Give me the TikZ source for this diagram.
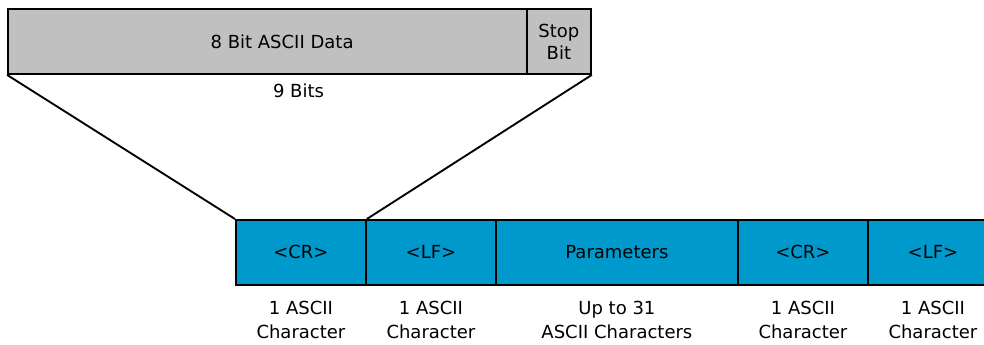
\documentclass[tikz,border=0pt]{standalone}
\usepackage{fontspec}
\setmainfont{DejaVu Sans}
\definecolor{boxgray}{RGB}{192,192,192}
\definecolor{boxblue}{RGB}{0,153,204}
\begin{document}
\begin{tikzpicture}[x=0.75pt,y=-0.75pt,
  txt/.style={font=\fontsize{13.5}{16.5}\selectfont},
  field/.style={draw=black,line width=1.4pt,inner sep=0pt,anchor=north west,
    minimum height=48.75pt,align=center,txt},
  topfield/.style={field,fill=boxgray},
  msgfield/.style={field,fill=boxblue},
  lbl/.style={inner sep=0pt,anchor=north,align=center,font=\fontsize{13.5}{17.5}\selectfont},
  link/.style={line width=1.4pt}]
\useasboundingbox (0,0) rectangle (984,345);
% top frame
\node[topfield,minimum width=389.25pt,
  label={[txt,xshift=11pt]center:8 Bit ASCII Data}] (data) at (7,8) {};
\node[topfield,minimum width=48pt] (stop) at (526,8) {Stop\\Bit};
\node[lbl] (nine) at (298.5,84) {9 Bits};
% message fields
\node[msgfield,minimum width=97.5pt] (cr1) at (235,219) {<CR>};
\node[msgfield,minimum width=97.5pt] (lf1) at (365,219) {<LF>};
\node[msgfield,minimum width=181.5pt] (par) at (495,219) {Parameters};
\node[msgfield,minimum width=97.5pt] (cr2) at (737,219) {<CR>};
\node[msgfield,minimum width=97.5pt] (lf2) at (867,219) {<LF>};
% connectors
\draw[link] (data.south west) -- (cr1.north west);
\draw[link] (stop.south east) -- (cr1.north east);
% labels
\node[lbl] (l1) at ([yshift=-11.5pt]cr1.south) {1 ASCII\\Character};
\node[lbl] (l2) at ([yshift=-11.5pt]lf1.south) {1 ASCII\\Character};
\node[lbl] (l3) at ([yshift=-11.5pt]par.south) {Up to 31\\ASCII Characters};
\node[lbl] (l4) at ([yshift=-11.5pt]cr2.south) {1 ASCII\\Character};
\node[lbl] (l5) at ([yshift=-11.5pt]lf2.south) {1 ASCII\\Character};
\end{tikzpicture}
\end{document}
